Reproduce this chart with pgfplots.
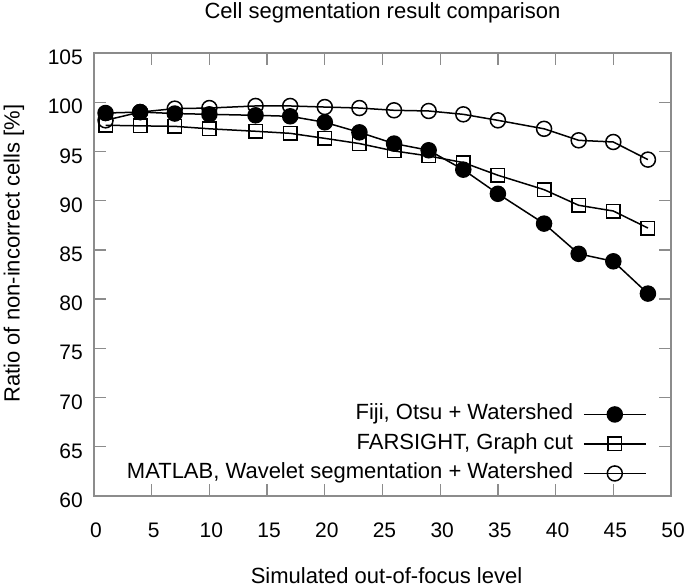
\documentclass[border=0pt]{standalone}
\usepackage{fontspec}
\setmainfont{Liberation Sans}
\usepackage{pgfplots}
\pgfplotsset{compat=1.18}
\begin{document}
\begin{tikzpicture}
\begin{axis}[name=ax, scale only axis, width=577bp, height=443bp,
  xmin=0, xmax=50, ymin=60, ymax=105,
  xtick={0,5,...,50}, ytick={60,65,...,105},
  tick align=inside, major tick length=12bp,
  axis line style={black!45, line width=1.3bp},
  every tick/.style={black!45, line width=1.3bp},
  font=\fontsize{22bp}{26bp}\selectfont,
  ticklabel style={font=\fontsize{21bp}{25bp}\selectfont},
  /pgf/number format/assume math mode=true,
  xticklabel style={anchor=north, inner sep=0pt, yshift=-27bp, xshift=2bp},
  yticklabel style={anchor=east, inner sep=0pt, xshift=-11bp, yshift=-4.5bp},
  every axis title shift=0pt,
  title={Cell segmentation result comparison},
  title style={at={(0.5,1.091)}, anchor=center, inner sep=0pt, yshift=0pt},
  xlabel={Simulated out-of-focus level},
  xlabel style={at={(0.507,-0.1797)}, anchor=center, inner sep=0pt},
  ylabel={Ratio of non-incorrect cells [\%]},
  ylabel style={at={(-0.1389,0.547)}, anchor=center, inner sep=0pt},
  legend style={draw=none, fill=none, at={(0.958,0.029)}, anchor=south east,
    inner sep=0pt, font=\fontsize{22bp}{26bp}\selectfont,
    nodes={inner sep=0pt, text height=15bp, text depth=4bp},
    row sep=10.5bp, column sep=10bp},
  legend cell align=right,
  legend plot pos=right,
  legend image code/.code={\draw[mark repeat=2,mark phase=2,#1] plot coordinates {(0bp,0bp)(31bp,0bp)(62bp,0bp)};},
  every axis plot/.append style={line width=1.5bp, black},
]
\addplot[mark=*, mark size=7.5bp, mark options={fill=black}] coordinates {
(1,98.9)(4,99.0)(7,98.85)(10,98.77)(14,98.67)(17,98.57)(20,97.96)(23,96.94)(26,95.8)(29,95.12)(32,93.15)(35,90.7)(39,87.67)(42,84.6)(45,83.84)(48,80.56)};
\addlegendentry{Fiji, Otsu + Watershed}
\addplot[mark=square, mark size=6.75bp] coordinates {
(1,97.66)(4,97.6)(7,97.55)(10,97.3)(14,97.05)(17,96.84)(20,96.33)(23,95.8)(26,95.05)(29,94.54)(32,93.87)(35,92.58)(39,91.12)(42,89.53)(45,88.95)(48,87.22)};
\addlegendentry{FARSIGHT, Graph cut}
\addplot[mark=o, mark size=7.5bp] coordinates {
(1,98.16)(4,99.0)(7,99.35)(10,99.41)(14,99.62)(17,99.62)(20,99.51)(23,99.41)(26,99.18)(29,99.11)(32,98.77)(35,98.16)(39,97.3)(42,96.13)(45,95.96)(48,94.17)};
\addlegendentry{MATLAB, Wavelet segmentation + Watershed}
\end{axis}
\pgfresetboundingbox
\path ([shift={(-94bp,-91bp)}]ax.south west) rectangle ([shift={(15bp,53bp)}]ax.north east);
\end{tikzpicture}
\end{document}
